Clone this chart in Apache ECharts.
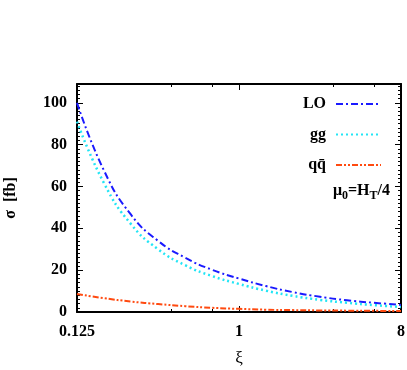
<!DOCTYPE html>
<html><head><meta charset="utf-8">
<script src="https://cdn.jsdelivr.net/npm/echarts@6/dist/echarts.min.js"></script>
<style>html,body{margin:0;padding:0;background:#fff}#c{width:407px;height:370px}</style>
</head><body><div id="c"></div>
<script>
var xi = [0.125, 0.177, 0.25, 0.354, 0.5, 0.707, 1, 1.414, 2, 2.828, 4, 5.657, 8];
var loVals = [100, 67.5, 46.5, 34, 26, 20.2, 16, 12.4, 9.5, 7.3, 5.6, 4.4, 3.4];
var ggVals = [91, 61.5, 42, 30, 22.4, 17.2, 13.4, 10.2, 7.7, 5.8, 4.4, 3.3, 2.4];
var qqVals = [8.6, 6.6, 5.0, 3.8, 2.8, 2.0, 1.5, 1.1, 0.9, 0.75, 0.65, 0.55, 0.5];
var seriesNames = ['LO', 'gg', 'qq\u0304'];
var xTickLabels = {'0.125': '0.125', '1': '1', '8': '8'};

var FONT = 'Liberation Serif';
function pairs(v){ return xi.map(function(x,i){ return [x, v[i]]; }); }
var xBase = {
  type: 'log', logBase: 2, min: 0.125, max: 8, interval: 3,
  axisLine: {show: true, onZero: false, lineStyle: {color: '#000', width: 2}},
  axisTick: {show: true, inside: true, length: 6, lineStyle: {color: '#000', width: 1}},
  minorTick: {show: true, splitNumber: 3, length: 3, lineStyle: {color: '#000'}},
  splitLine: {show: false}
};
var yBase = {
  type: 'value', min: 0, max: 109, interval: 20,
  axisLine: {show: true, onZero: false, lineStyle: {color: '#000', width: 2}},
  axisTick: {show: true, inside: true, length: 6, lineStyle: {color: '#000', width: 1}},
  minorTick: {show: true, splitNumber: 10, length: 3, lineStyle: {color: '#000'}},
  splitLine: {show: false}
};
var chart = echarts.init(document.getElementById('c'), null, {renderer: 'canvas'});
chart.setOption({
  animation: false,
  backgroundColor: '#fff',
  grid: {left: 77, right: 6, top: 84, bottom: 58, containLabel: false, outerBoundsMode: 'none'},
  xAxis: [
    Object.assign({}, xBase, {position: 'bottom', name: '\u03be', nameLocation: 'middle', nameGap: 38,
      nameTextStyle: {fontFamily: FONT, fontSize: 17, color: '#000'},
      axisLabel: {show: true, margin: 12, fontFamily: FONT, fontWeight: 'bold', fontSize: 16, color: '#000',
        showMinLabel: true, showMaxLabel: true,
        formatter: function(v){ var k = String(+(+v).toPrecision(6)); return xTickLabels[k] || ''; }}}),
    Object.assign({}, xBase, {position: 'top', axisLabel: {show: false}})
  ],
  yAxis: [
    Object.assign({}, yBase, {position: 'left', name: '\u03c3  [fb]', nameLocation: 'middle', nameGap: 58, nameRotate: 90,
      nameTextStyle: {fontFamily: FONT, fontWeight: 'bold', fontSize: 16, color: '#000'},
      axisLabel: {show: true, margin: 10, fontFamily: FONT, fontWeight: 'bold', fontSize: 16, color: '#000', showMaxLabel: false,
        formatter: function(v){ return v > 100 ? '' : String(v); }}}),
    Object.assign({}, yBase, {position: 'right', axisLabel: {show: false}})
  ],
  legend: {
    orient: 'vertical', right: 25, top: 96, padding: 0, align: 'right',
    itemWidth: 45, itemHeight: 14, itemGap: 14.5,
    itemStyle: {opacity: 0},
    textStyle: {fontFamily: FONT, fontWeight: 'bold', fontSize: 16, color: '#000', padding: [0, 5, 0, 0]},
    data: seriesNames
  },
  graphic: [{
    type: 'text', right: 17, top: 183,
    style: {
      text: '\u03bc{s|0}=H{s|T}/4',
      font: 'bold 16px "Liberation Serif"', fill: '#000',
      rich: {s: {fontFamily: FONT, fontWeight: 'bold', fontSize: 12, padding: [9, 0, 0, 0], verticalAlign: 'bottom'}}
    }
  }],
  series: [
    {name: seriesNames[0], type: 'line', smooth: true, symbol: 'none', xAxisIndex: 0, yAxisIndex: 0,
      data: pairs(loVals), lineStyle: {color: '#1a1aff', width: 2, type: [7, 3, 2, 3]}, itemStyle: {color: '#1a1aff'}},
    {name: seriesNames[1], type: 'line', smooth: true, symbol: 'none', xAxisIndex: 0, yAxisIndex: 0,
      data: pairs(ggVals), lineStyle: {color: '#22e5f5', width: 2.5, type: [2, 3]}, itemStyle: {color: '#22e5f5'}},
    {name: seriesNames[2], type: 'line', smooth: true, symbol: 'none', xAxisIndex: 0, yAxisIndex: 0,
      data: pairs(qqVals), lineStyle: {color: '#ff4a10', width: 2, type: [6, 2, 2, 2, 2, 2]}, itemStyle: {color: '#ff4a10'}}
  ]
});
</script></body></html>
